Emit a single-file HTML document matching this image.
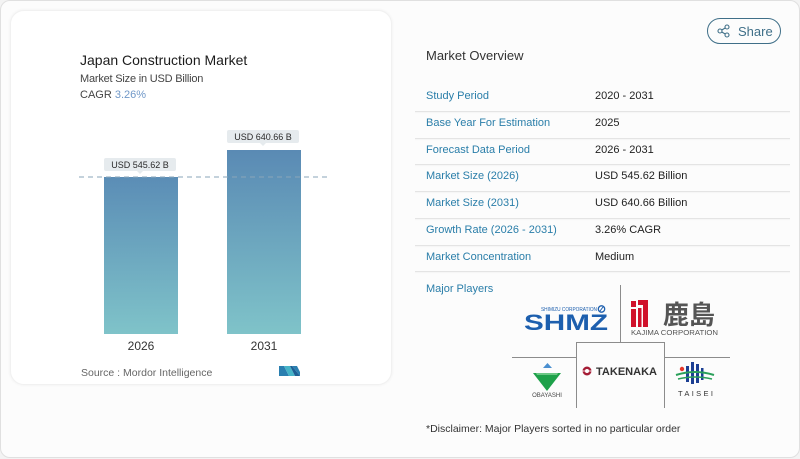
<!DOCTYPE html>
<html>
<head>
<meta charset="utf-8">
<style>
  html,body{margin:0;padding:0;}
  body{width:800px;height:459px;background:#f3f3f3;position:relative;overflow:hidden;font-family:"Liberation Sans","Noto Sans CJK JP",sans-serif;}
  .outer{position:absolute;left:0;top:0;width:798px;height:456px;border:1px solid #e0e0e0;border-radius:10px;background:#fcfcfc;}
  .inner{position:absolute;left:10px;top:10px;width:382px;height:375px;border-radius:14px;background:#ffffff;box-shadow:0 0 3px rgba(0,0,0,0.06);border:1px solid #f1f1f1;box-sizing:border-box;}
  .t{position:absolute;white-space:nowrap;line-height:1;}
  .lbl{position:absolute;left:426px;font-size:11px;color:#2a7ea9;white-space:nowrap;line-height:1;}
  .val{position:absolute;left:595px;font-size:11px;color:#1f1f1f;white-space:nowrap;line-height:1;}
  .div{position:absolute;left:415px;width:375px;height:1px;background:#e4e4e4;box-shadow:0 1px 1px rgba(0,0,0,0.04);}
</style>
</head>
<body>
<div class="outer"></div>
<div class="inner"></div>

<!-- Left chart texts -->
<div class="t" style="left:80px;top:53px;font-size:14px;color:#1c1c1c;">Japan Construction Market</div>
<div class="t" style="left:80px;top:74px;font-size:11px;letter-spacing:-0.2px;color:#444;">Market Size in USD Billion</div>
<div class="t" style="left:80px;top:90px;font-size:11px;color:#444;">CAGR <span style="color:#7098c8;">3.26%</span></div>

<svg style="position:absolute;left:0;top:0" width="400" height="400">
  <defs>
    <linearGradient id="g" x1="0" y1="0" x2="0" y2="1">
      <stop offset="0" stop-color="#5b8db6"/>
      <stop offset="1" stop-color="#7fc3c9"/>
    </linearGradient>
    <linearGradient id="g2" x1="0" y1="0" x2="0" y2="1">
      <stop offset="0" stop-color="#5a8ab4"/>
      <stop offset="1" stop-color="#7fc3c9"/>
    </linearGradient>
  </defs>
  <rect x="104" y="177" width="74" height="157" fill="url(#g)"/>
  <rect x="227" y="150" width="74" height="184" fill="url(#g2)"/>
  <line x1="79" y1="177" x2="328" y2="177" stroke="#8aa6ba" stroke-width="1" stroke-dasharray="5,4"/>
  <!-- label boxes -->
  <rect x="104" y="158" width="72" height="13" rx="2" fill="#e6ebee"/>
  <path d="M137 171 L140 174 L143 171 Z" fill="#e6ebee"/>
  <text x="140" y="168" font-size="9" fill="#2a2a2a" text-anchor="middle" font-family="Liberation Sans, sans-serif">USD 545.62 B</text>
  <rect x="227" y="130" width="72" height="13" rx="2" fill="#e6ebee"/>
  <path d="M260 143 L263 146 L266 143 Z" fill="#e6ebee"/>
  <text x="263" y="140" font-size="9" fill="#2a2a2a" text-anchor="middle" font-family="Liberation Sans, sans-serif">USD 640.66 B</text>
  <text x="141" y="350" font-size="12" fill="#333" text-anchor="middle" font-family="Liberation Sans, sans-serif">2026</text>
  <text x="264" y="350" font-size="12" fill="#333" text-anchor="middle" font-family="Liberation Sans, sans-serif">2031</text>
  <text x="81" y="376" font-size="10.5" fill="#666" font-family="Liberation Sans, sans-serif">Source :  Mordor Intelligence</text>
  <!-- MI logo -->
  <path d="M279 366 L284 366 L289 376 L279 376 Z" fill="#2a7fb0"/>
  <path d="M284 366 L290 366 L295 376 L289 376 Z" fill="#46b4c8"/>
  <path d="M292 366 L297 366 L300 372 L300 376 Z" fill="#2a7fb0"/>
  <path d="M290 366 L292 366 L300 376 L295 376 Z" fill="#1d5f95"/>
</svg>

<!-- Share button -->
<div style="position:absolute;left:707px;top:18px;width:72px;height:24px;border:1.3px solid #3f6f88;border-radius:13px;"></div>
<svg style="position:absolute;left:717px;top:24px" width="14" height="14">
  <circle cx="3" cy="7" r="2" fill="none" stroke="#3f6f88" stroke-width="1.1"/>
  <circle cx="10" cy="3" r="2" fill="none" stroke="#3f6f88" stroke-width="1.1"/>
  <circle cx="10" cy="11" r="2" fill="none" stroke="#3f6f88" stroke-width="1.1"/>
  <line x1="4.8" y1="6" x2="8.2" y2="4" stroke="#3f6f88" stroke-width="1.1"/>
  <line x1="4.8" y1="8" x2="8.2" y2="10" stroke="#3f6f88" stroke-width="1.1"/>
</svg>
<div class="t" style="left:738px;top:25px;font-size:13px;color:#3f6f88;">Share</div>

<div class="t" style="left:426px;top:49px;font-size:13px;color:#333;">Market Overview</div>

<div class="lbl" style="top:91px;">Study Period</div><div class="val" style="top:91px;">2020 - 2031</div>
<div class="div" style="top:111px;"></div>
<div class="lbl" style="top:118px;">Base Year For Estimation</div><div class="val" style="top:118px;">2025</div>
<div class="div" style="top:138px;"></div>
<div class="lbl" style="top:145px;">Forecast Data Period</div><div class="val" style="top:145px;">2026 - 2031</div>
<div class="div" style="top:164px;"></div>
<div class="lbl" style="top:171px;">Market Size (2026)</div><div class="val" style="top:171px;">USD 545.62 Billion</div>
<div class="div" style="top:191px;"></div>
<div class="lbl" style="top:198px;">Market Size (2031)</div><div class="val" style="top:198px;">USD 640.66 Billion</div>
<div class="div" style="top:218px;"></div>
<div class="lbl" style="top:225px;">Growth Rate (2026 - 2031)</div><div class="val" style="top:225px;">3.26% CAGR</div>
<div class="div" style="top:245px;"></div>
<div class="lbl" style="top:252px;">Market Concentration</div><div class="val" style="top:252px;">Medium</div>
<div class="div" style="top:271px;"></div>
<div class="lbl" style="top:284px;">Major Players</div>

<!-- Logos -->
<svg style="position:absolute;left:500px;top:280px" width="250" height="135">
  <!-- grid lines -->
  <line x1="120.5" y1="5" x2="120.5" y2="62" stroke="#8c8c8c" stroke-width="1"/>
  <line x1="12" y1="77.5" x2="76" y2="77.5" stroke="#8c8c8c" stroke-width="1"/>
  <line x1="164" y1="77.5" x2="230" y2="77.5" stroke="#8c8c8c" stroke-width="1"/>
  <path d="M76.5 128 L76.5 62.5 L164.5 62.5 L164.5 128" fill="none" stroke="#8c8c8c" stroke-width="1"/>
  <!-- SHMZ -->
  <text x="41" y="31" font-size="5" fill="#1d5fae" font-family="Liberation Sans, sans-serif" textLength="56" lengthAdjust="spacingAndGlyphs">SHIMIZU CORPORATION</text>
  <circle cx="101.5" cy="29" r="3.2" fill="none" stroke="#1d5fae" stroke-width="1.3"/>
  <line x1="100" y1="31" x2="103" y2="27" stroke="#1d5fae" stroke-width="1"/>
  <text x="24" y="50" font-size="22" font-weight="bold" fill="#1d5fae" font-family="Liberation Sans, sans-serif" textLength="84" lengthAdjust="spacingAndGlyphs">SHMZ</text>
  <!-- Kajima -->
  <rect x="131" y="21" width="5" height="6" fill="#d0112b"/>
  <rect x="131" y="29" width="5" height="18" fill="#d0112b"/>
  <path d="M138 20 L148 20 L148 47 L143 47 L143 25 L138 25 Z" fill="#d0112b"/>
  <rect x="138" y="28" width="3.5" height="19" fill="#d0112b"/>
  <text x="163" y="44" font-size="26" font-weight="bold" fill="#555" font-family="Noto Sans CJK JP, sans-serif">鹿島</text>
  <text x="131" y="55" font-size="7.5" fill="#555" font-family="Liberation Sans, sans-serif" textLength="87" lengthAdjust="spacingAndGlyphs">KAJIMA CORPORATION</text>
  <!-- Obayashi -->
  <path d="M43 88 L47.5 83 L52 88 Z" fill="#4a8fd0"/>
  <path d="M33 93 L61 93 L47 111 Z" fill="#1ea14a"/>
  <path d="M36 93 L58 93 L57 95 L37 95 Z" fill="#6cc785"/>
  <text x="47" y="117" font-size="6" fill="#444" text-anchor="middle" font-family="Liberation Sans, sans-serif">OBAYASHI</text>
  <!-- Takenaka -->
  <circle cx="87" cy="91" r="4.5" fill="#a51d36"/>
  <circle cx="87" cy="91" r="2" fill="#fff"/>
  <line x1="82.5" y1="91" x2="91.5" y2="91" stroke="#fff" stroke-width="0.8"/>
  <text x="96" y="95" font-size="11" font-weight="bold" fill="#333" font-family="Liberation Sans, sans-serif" textLength="61" lengthAdjust="spacingAndGlyphs">TAKENAKA</text>
  <!-- Taisei -->
  <circle cx="182" cy="89" r="2.2" fill="#e6392c"/>
  <rect x="186" y="86" width="3" height="16" fill="#1c3f93"/>
  <rect x="191" y="82" width="3" height="22" fill="#1c3f93"/>
  <rect x="196" y="84" width="3" height="19" fill="#1c3f93"/>
  <rect x="201" y="88" width="2.5" height="12" fill="#1c3f93"/>
  <path d="M176 95 Q195 89 214 95" fill="none" stroke="#2aa05a" stroke-width="2"/>
  <path d="M178 99 Q195 95 212 99" fill="none" stroke="#2aa05a" stroke-width="1.5"/>
  <text x="178" y="116" font-size="7.5" fill="#333" font-family="Liberation Sans, sans-serif" textLength="35" lengthAdjust="spacing">TAISEI</text>
</svg>

<div class="t" style="left:426px;top:424px;font-size:10.5px;color:#333;">*Disclaimer: Major Players sorted in no particular order</div>
</body>
</html>
